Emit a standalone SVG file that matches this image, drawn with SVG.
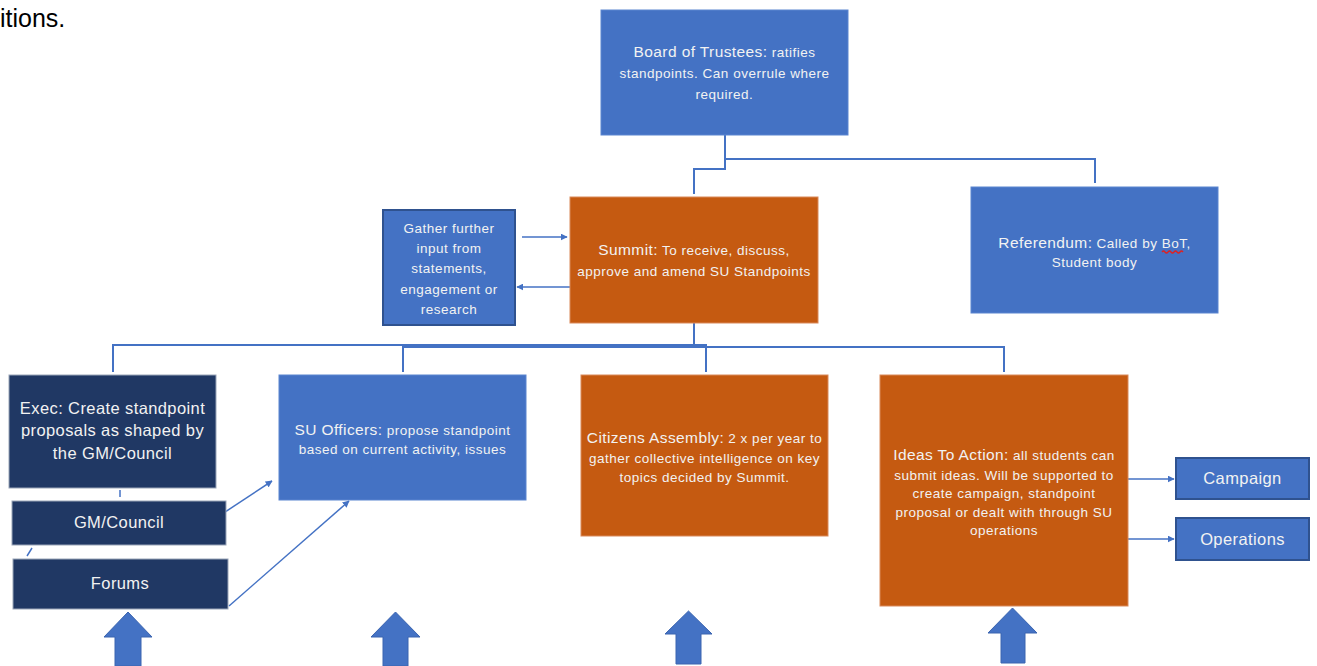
<svg xmlns="http://www.w3.org/2000/svg" width="1317" height="666" viewBox="0 0 1317 666">
<style>
  .blue{fill:#4472C4;stroke:#5B85D0;stroke-width:1}
  .orange{fill:#C55A11;stroke:#D9895A;stroke-width:1}
  .navy{fill:#203864;stroke:#9AA5B8;stroke-width:1}
  .bdark{fill:#4472C4;stroke:#2F528F;stroke-width:2}
  text{font-family:"Liberation Sans",Arial,sans-serif;fill:#F2F2F2;text-anchor:middle}
  .t14{font-size:15.5px;letter-spacing:0.4px}
  .t12{font-size:13.5px;letter-spacing:0.5px}
  .t15{font-size:16.5px;letter-spacing:0.4px}
  .conn{fill:none;stroke:#4472C4;stroke-width:2}
  .thin{fill:none;stroke:#4472C4;stroke-width:1.5}
  .big{fill:#4472C4;stroke:#3A64B0;stroke-width:1}
</style>
<defs>
  <marker id="ah" viewBox="0 0 10 10" refX="9" refY="5" markerWidth="7" markerHeight="7" orient="auto" markerUnits="userSpaceOnUse">
    <path d="M0,0 L10,5 L0,10 z" fill="#4472C4"/>
  </marker>
</defs>
<rect width="1317" height="666" fill="#FFFFFF"/>
<text x="0" y="27" style="font-size:25px;fill:#000000;text-anchor:start">itions.</text>

<g id="connectors">
  <path class="conn" d="M725,135 V159 H1095 V183"/>
  <path class="conn" d="M725,159 V169 H694 V194"/>
  <path class="conn" d="M694,323 V346"/>
  <path class="conn" d="M113,372 V345 H706 V372"/>
  <path class="conn" d="M403,372 V347 H1004 V372"/>
  <path class="thin" d="M522,237 H567" marker-end="url(#ah)"/>
  <path class="thin" d="M570,287 H517" marker-end="url(#ah)"/>
  <path class="thin" d="M216,518 L272,481" marker-end="url(#ah)"/>
  <path class="thin" d="M229,606 L349,501" marker-end="url(#ah)"/>
  <path class="thin" d="M120,490 V497"/>
  <path class="thin" d="M32,548 L27,556"/>
  <path class="thin" d="M1121,479 H1174" marker-end="url(#ah)"/>
  <path class="thin" d="M1118,539 H1174" marker-end="url(#ah)"/>
</g>

<g id="board">
  <rect class="blue" x="601" y="10" width="247" height="125"/>
  <text x="724.5" y="57"><tspan class="t14">Board of Trustees:</tspan><tspan class="t12"> ratifies</tspan></text>
  <text x="724.5" y="78" class="t12">standpoints. Can overrule where</text>
  <text x="724.5" y="99" class="t12">required.</text>
</g>

<g id="summit">
  <rect class="orange" x="570" y="197" width="248" height="126"/>
  <text x="694" y="255"><tspan class="t14">Summit:</tspan><tspan class="t12"> To receive, discuss,</tspan></text>
  <text x="694" y="276" class="t12">approve and amend SU Standpoints</text>
</g>

<g id="gather">
  <rect class="bdark" x="383" y="210" width="132" height="115"/>
  <text x="449" y="233" class="t12">Gather further</text>
  <text x="449" y="253" class="t12">input from</text>
  <text x="449" y="273" class="t12">statements,</text>
  <text x="449" y="294" class="t12">engagement or</text>
  <text x="449" y="314" class="t12">research</text>
</g>

<g id="referendum">
  <rect class="blue" x="971" y="187" width="247" height="126"/>
  <text x="1094.5" y="248"><tspan class="t14">Referendum:</tspan><tspan class="t12"> Called by BoT,</tspan></text>
  <text x="1094.5" y="267" class="t12">Student body</text>
  <path d="M1162,252 q1.5,-2 3,0 t3,0 t3,0 t3,0 t3,0 t3,0 t3,0" fill="none" stroke="#E02020" stroke-width="1.3"/>
</g>

<g id="exec">
  <rect class="navy" x="9" y="375" width="207" height="113"/>
  <text x="112.5" y="414" class="t15">Exec: Create standpoint</text>
  <text x="112.5" y="436" class="t15">proposals as shaped by</text>
  <text x="112.5" y="459" class="t15">the GM/Council</text>
</g>

<g id="gmcouncil">
  <rect class="navy" x="12" y="501" width="214" height="44"/>
  <text x="119" y="528" class="t15">GM/Council</text>
</g>

<g id="forums">
  <rect class="navy" x="13" y="559" width="215" height="50"/>
  <text x="120" y="589" class="t15">Forums</text>
</g>

<g id="officers">
  <rect class="blue" x="279" y="375" width="247" height="125"/>
  <text x="402.5" y="435"><tspan class="t14">SU Officers:</tspan><tspan class="t12"> propose standpoint</tspan></text>
  <text x="402.5" y="454" class="t12">based on current activity, issues</text>
</g>

<g id="citizens">
  <rect class="orange" x="581" y="375" width="247" height="161"/>
  <text x="704.5" y="443"><tspan class="t14">Citizens Assembly:</tspan><tspan class="t12"> 2 x per year to</tspan></text>
  <text x="704.5" y="463" class="t12">gather collective intelligence on key</text>
  <text x="704.5" y="482" class="t12">topics decided by Summit.</text>
</g>

<g id="ideas">
  <rect class="orange" x="880" y="375" width="248" height="231"/>
  <text x="1004" y="460"><tspan class="t14">Ideas To Action:</tspan><tspan class="t12"> all students can</tspan></text>
  <text x="1004" y="480" class="t12">submit ideas. Will be supported to</text>
  <text x="1004" y="498" class="t12">create campaign, standpoint</text>
  <text x="1004" y="517" class="t12">proposal or dealt with through SU</text>
  <text x="1004" y="535" class="t12">operations</text>
</g>

<g id="campaign">
  <rect class="bdark" x="1176" y="458" width="133" height="41"/>
  <text x="1242.5" y="484" class="t15">Campaign</text>
</g>

<g id="operations">
  <rect class="bdark" x="1176" y="518" width="133" height="42"/>
  <text x="1242.5" y="545" class="t15">Operations</text>
</g>

<g id="uparrows">
  <path class="big" d="M128,612 L152,637 H141 V666 H115 V637 H104 Z"/>
  <path class="big" d="M395.5,612 L420,637 H408 V666 H383 V637 H371 Z"/>
  <path class="big" d="M688.5,611 L712,634 H701 V664 H676 V634 H665 Z"/>
  <path class="big" d="M1012.5,608 L1037,633 H1025 V663 H1001 V633 H988 Z"/>
</g>
</svg>
